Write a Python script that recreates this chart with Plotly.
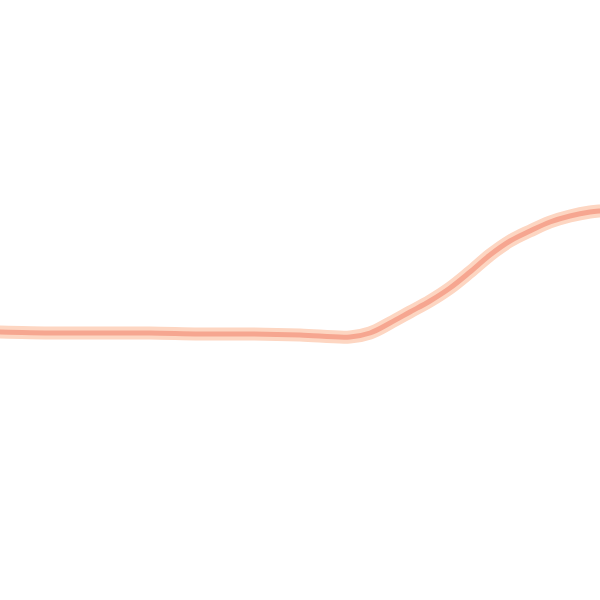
import plotly.graph_objects as go

x_vals = [-20, 0, 50, 100, 150, 200, 250, 300, 350, 370, 390, 410, 430, 450, 470, 490, 510, 530, 550, 570, 590, 600, 620]
y_vals = [268, 268, 267, 267, 267, 266, 266, 265, 263, 267, 277, 288, 299, 312, 328, 345, 359, 369, 378, 384, 388, 389, 390]

fig = go.Figure()
fig.add_trace(go.Scatter(x=x_vals, y=y_vals, mode="lines",
                         line=dict(color="#FDD6C2", width=13, shape="spline", smoothing=1),
                         hoverinfo="skip", showlegend=False))
fig.add_trace(go.Scatter(x=x_vals, y=y_vals, mode="lines",
                         line=dict(color="#F6A690", width=5, shape="spline", smoothing=1),
                         showlegend=False))
fig.update_layout(width=600, height=600, margin=dict(l=0, r=0, t=0, b=0),
                  paper_bgcolor="white", plot_bgcolor="white",
                  xaxis=dict(range=[0, 600], visible=False),
                  yaxis=dict(range=[0, 600], visible=False))
fig.write_html("out.html", config={"displayModeBar": False},
               post_script="document.body.style.margin='0';")
